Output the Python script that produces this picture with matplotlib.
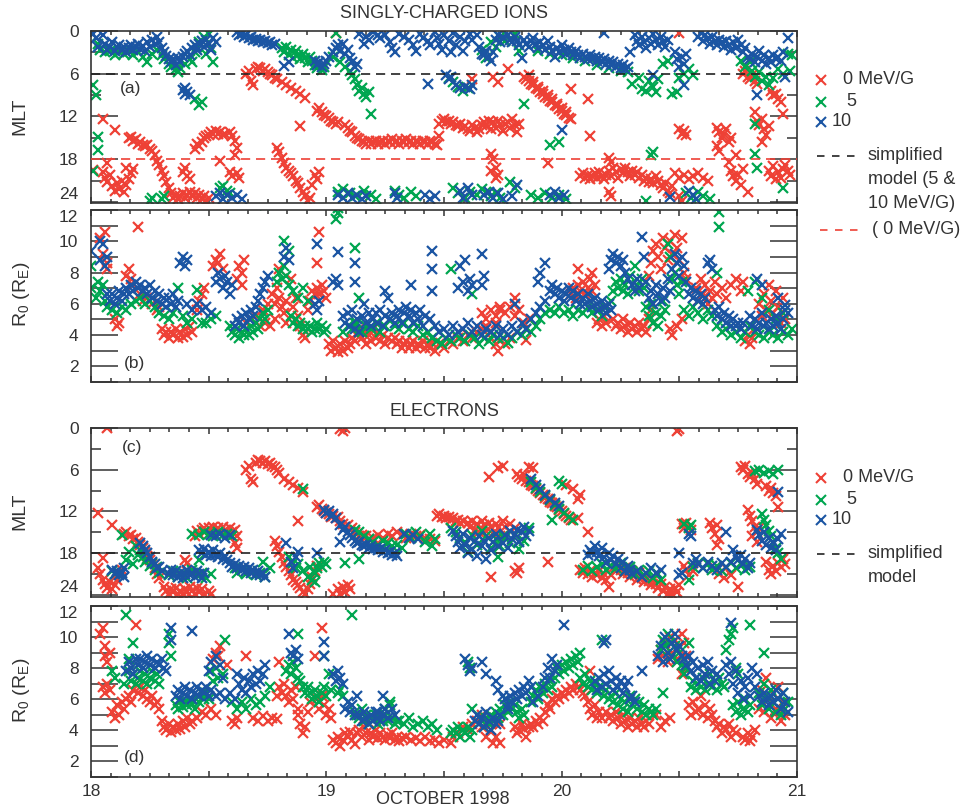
import matplotlib.pyplot as plt
from matplotlib.ticker import MultipleLocator, FuncFormatter

plt.rcParams['font.family'] = ['Liberation Sans', 'DejaVu Sans']
plt.rcParams['mathtext.fontset'] = 'custom'
plt.rcParams['mathtext.rm'] = 'Liberation Sans'
plt.rcParams['mathtext.it'] = 'Liberation Sans:italic'

RED, GREEN, BLUE = '#ee4136', '#00a650', '#1b55a3'
INK = '#333333'
W, H = 974, 810

# ---- singly-charged ions: MLT (day of October 1998, MLT hours) ----
ions_mlt_0 = [(18.01,19.5),(18.05,12.3),(18.10,13.9),(18.07,18.6),
    (18.05,19.8),(18.06,20.6),(18.07,21.2),(18.08,20.2),(18.09,21.8),(18.10,22.4),(18.11,21.4),(18.12,22.2),(18.13,21.0),(18.14,22.6),(18.15,21.6),(18.16,20.8),(18.17,20.0),(18.18,19.4),(18.15,19.2),
    (18.16,15.0),(18.17,14.9),(18.18,15.4),(18.19,15.2),(18.20,15.8),(18.21,15.6),(18.22,16.0),(18.23,16.2),(18.24,16.0),(18.25,16.6),(18.26,16.8),(18.27,17.4),(18.28,18.2),(18.29,18.8),(18.30,19.6),(18.31,20.4),(18.32,21.2),(18.33,22.0),(18.34,22.8),(18.35,23.4),(18.36,23.0),(18.37,23.6),(18.38,23.2),(18.39,22.8),(18.40,23.4),(18.41,23.0),(18.42,22.6),(18.43,23.2),(18.44,22.8),(18.45,23.4),(18.46,23.0),(18.47,23.6),(18.48,23.2),(18.49,23.8),(18.50,23.4),
    (18.39,19.8),(18.40,19.2),(18.41,20.4),(18.42,20.8),
    (18.44,16.6),(18.45,15.8),(18.46,16.2),(18.47,15.6),(18.48,15.0),(18.49,14.8),(18.50,14.6),(18.51,14.2),(18.52,14.4),(18.53,14.0),(18.54,14.4),(18.55,14.2),(18.56,14.6),(18.57,14.4),
    (18.55,18.2),(18.59,14.2),(18.60,14.8),(18.61,15.4),(18.62,16.4),(18.61,17.4),(18.59,19.8),(18.60,20.4),(18.62,20.0),(18.63,20.6),
    (18.66,6.0),(18.67,5.6),(18.68,7.0),(18.69,7.6),(18.70,5.4),(18.71,5.0),(18.72,5.2),(18.73,5.6),(18.74,5.4),(18.75,5.8),(18.76,6.0),(18.77,6.2),(18.78,6.6),(18.79,6.8),
    (18.81,7.2),(18.83,7.6),(18.85,8.0),(18.87,8.4),(18.89,8.8),(18.91,9.4),(18.89,13.4),
    (18.79,16.4),(18.80,17.0),(18.81,17.8),(18.82,18.6),(18.83,19.2),(18.84,19.6),(18.85,20.0),(18.86,20.4),(18.87,21.0),(18.88,21.4),(18.89,22.0),(18.90,22.6),(18.91,23.2),(18.92,23.8),(18.93,23.4),(18.94,21.6),(18.95,20.2),(18.96,20.8),(18.97,19.8),
    (18.96,11.2),(18.97,10.8),(18.98,11.4),(18.99,11.8),(19.00,12.0),(19.01,12.2),(19.02,12.6),(19.03,12.8),(19.04,13.0),(19.05,12.8),(19.04,0.3),
    (19.08,13.2),(19.09,13.6),(19.10,14.0),(19.11,14.2),(19.12,14.8),(19.13,15.0),(19.14,15.2),(19.15,15.4),(19.16,15.6),(19.17,15.8),(19.18,15.4),(19.19,15.8),(19.20,15.6),(19.21,15.4),(19.22,15.8),(19.23,15.6),(19.24,15.4),(19.25,15.8),(19.26,15.4),(19.27,15.6),(19.28,15.2),(19.29,15.6),(19.30,15.4),(19.31,15.8),(19.32,15.4),(19.33,15.6),(19.34,15.2),(19.35,15.6),(19.36,15.4),(19.37,15.8),(19.38,15.4),(19.39,15.6),(19.40,15.8),(19.41,15.4),(19.42,15.6),(19.43,15.8),(19.44,15.4),(19.45,15.6),(19.46,15.8),(19.47,16.0),(19.48,14.8),
    (19.48,13.0),(19.49,12.6),(19.50,12.4),(19.51,12.8),(19.52,12.6),(19.53,13.0),(19.54,12.8),(19.55,13.2),(19.56,13.4),(19.57,13.0),(19.58,13.6),(19.59,13.4),(19.60,13.8),(19.61,14.0),(19.62,13.2),(19.63,13.6),(19.64,14.2),(19.65,13.8),(19.66,13.2),(19.67,12.8),(19.68,13.4),(19.69,12.6),(19.70,13.8),(19.71,12.8),(19.72,13.6),(19.73,12.6),(19.74,13.2),(19.75,14.0),(19.76,13.0),(19.77,12.8),(19.78,13.6),(19.79,12.4),(19.80,13.2),(19.81,14.2),(19.82,13.0),
    (19.62,6.8),(19.70,17.2),(19.71,18.0),(19.72,19.2),(19.73,20.2),(19.70,19.6),(19.71,6.4),(19.73,7.2),(19.77,5.4),(19.72,20.6),
    (19.84,6.4),(19.85,6.8),(19.86,7.0),(19.87,7.4),(19.88,7.6),(19.89,8.0),(19.90,8.2),(19.91,8.6),(19.92,8.8),(19.93,9.2),(19.94,9.4),(19.95,9.8),(19.96,10.0),(19.97,10.4),(19.98,10.6),(19.99,11.0),(20.00,11.2),(20.01,11.6),(20.02,11.8),(20.03,12.2),(20.04,12.4),
    (19.86,6.2),(19.88,7.2),(19.90,7.8),(19.92,8.4),(19.94,9.0),(19.96,9.6),(19.98,10.2),(20.00,10.8),(20.02,11.4),
    (19.94,18.6),(20.04,8.2),(20.11,9.5),(20.12,14.8),
    (20.08,20.4),(20.09,20.0),(20.10,20.6),(20.11,20.2),(20.12,20.8),(20.13,20.4),(20.14,20.0),(20.15,20.6),(20.16,19.8),(20.17,20.4),(20.18,20.8),(20.19,20.2),(20.20,19.6),(20.21,20.4),(20.22,19.2),(20.23,19.8),(20.24,20.6),(20.25,19.4),(20.26,20.0),(20.27,19.2),(20.28,19.8),(20.29,20.4),(20.30,19.6),(20.31,20.2),(20.32,19.8),(20.33,20.6),(20.34,20.2),(20.35,21.0),(20.36,20.6),(20.37,21.2),(20.38,20.8),(20.39,21.4),(20.40,20.4),(20.41,21.0),(20.42,21.6),(20.43,22.0),(20.44,21.4),(20.45,22.4),(20.46,22.8),(20.47,21.8),
    (20.20,17.8),(20.21,18.4),(20.20,22.6),(20.21,23.2),
    (20.48,20.0),(20.50,20.6),(20.52,20.2),(20.54,20.8),(20.56,20.4),(20.58,20.0),(20.60,20.6),(20.62,21.0),(20.50,23.2),(20.51,23.8),
    (20.50,13.8),(20.51,14.4),(20.52,14.0),(20.53,14.6),
    (20.66,13.6),(20.67,14.2),(20.68,15.0),(20.69,14.4),(20.70,13.8),(20.71,15.6),(20.72,15.0),(20.66,16.2),(20.67,16.8),
    (20.71,18.4),(20.72,19.6),(20.73,20.4),(20.74,21.0),(20.75,20.2),(20.76,21.6),(20.77,19.4),(20.79,22.6),(20.74,17.4),
    (20.77,6.0),(20.78,5.6),(20.79,6.4),(20.80,6.8),(20.81,6.2),(20.82,7.0),(20.83,7.4),
    (20.82,11.4),(20.83,12.6),(20.84,13.2),(20.85,12.4),(20.86,13.8),(20.87,14.6),(20.88,13.4),(20.85,15.6),
    (20.89,8.4),(20.90,9.0),(20.91,8.8),(20.92,9.6),(20.93,10.0),(20.94,11.6),
    (20.88,19.6),(20.89,20.4),(20.90,19.0),(20.91,20.8),(20.92,19.8),(20.93,20.6),(20.94,19.4),(20.95,18.8),(20.96,19.6),(20.97,20.2),
    (20.50,0.3)]

ions_mlt_5 = [(18.01,7.6),(18.02,9.0),(18.03,14.9),(18.03,16.7),(18.01,19.6),(18.03,1.8),(18.04,2.6),(18.06,3.0),(18.08,2.8),(18.10,3.4),(18.12,2.9),(18.14,3.2),(18.16,2.8),(18.18,3.4),(18.20,3.0),(18.22,3.6),(18.24,4.3),(18.26,3.2),(18.28,2.6),(18.30,3.4),(18.31,4.0),(18.33,4.6),(18.34,5.0),(18.36,5.4),(18.37,5.7),(18.38,5.2),(18.40,4.6),(18.42,4.0),(18.43,4.3),(18.44,3.0),(18.45,2.2),(18.46,1.6),(18.48,0.8),(18.49,3.2),(18.50,0.4),(18.51,2.4),(18.52,4.3),(18.44,9.6),(18.46,10.4),(18.47,10.0),
    (18.81,2.4),(18.82,3.0),(18.83,2.2),(18.84,3.4),(18.85,2.6),(18.86,3.8),(18.87,2.8),(18.88,3.4),(18.89,4.0),(18.90,3.2),(18.91,3.8),(18.92,4.4),(18.93,3.6),(18.94,4.2),(18.95,4.8),(18.96,5.2),(18.98,5.5),(18.99,5.0),
    (19.04,0.3),(19.03,3.6),(19.06,4.4),(19.08,5.0),(19.10,5.6),(19.11,6.2),(19.12,6.8),(19.13,7.6),(19.14,8.4),(19.15,8.0),(19.16,8.8),(19.17,9.2),(19.18,8.6),(19.19,11.6),
    (19.52,6.6),(19.54,7.2),(19.56,7.8),(19.58,8.4),(19.60,8.0),
    (18.25,23.8),(18.26,23.4),(18.30,23.6),(18.31,23.2),(18.55,22.0),(18.56,21.8),(18.58,22.4),(18.59,22.8),(19.05,22.6),(19.07,22.2),(19.10,22.8),(19.12,23.2),(19.16,22.4),(19.19,23.0),(19.21,23.6),(19.29,22.4),(19.31,23.0),(19.33,23.4),(19.36,22.6),(19.38,23.2),(19.54,22.0),(19.56,22.8),(19.59,23.4),(19.61,22.6),(19.64,23.0),(19.66,22.2),(19.68,22.6),(19.70,23.2),(19.72,22.8),(19.74,23.4),(19.78,21.2),(19.80,22.0),(19.87,23.0),(19.90,23.4),(19.93,22.8),(19.96,23.4),(19.99,23.0),(20.02,23.6),(20.36,23.8),(20.53,22.8),(20.55,23.4),(20.58,22.6),(20.60,23.2),(20.63,23.6),
    (19.66,2.6),(19.68,3.8),(19.70,1.6),(19.72,2.2),(19.74,0.8),(19.76,1.4),(19.80,0.4),(19.84,10.2),(19.95,16.0),(19.99,15.6),(19.82,2.8),
    (19.90,2.8),(19.95,3.2),(20.00,3.4),(20.05,3.8),(20.10,4.2),(20.15,4.8),(20.20,5.2),(20.25,5.6),(20.28,5.8),(20.30,7.4),(20.33,6.6),(20.34,8.2),(20.36,8.4),(20.37,7.0),(20.39,7.8),(20.41,6.8),(20.40,8.6),(20.45,4.2),(20.47,8.8),(20.49,8.6),(20.50,6.6),(20.52,6.0),(20.54,5.4),(20.56,6.2),(20.43,4.6),
    (20.38,17.4),(20.39,17.0),
    (20.76,4.2),(20.78,5.0),(20.80,4.4),(20.81,5.6),(20.82,6.4),(20.84,5.8),(20.85,7.0),(20.87,6.4),(20.88,7.6),(20.90,6.6),(20.92,5.4),(20.94,6.0),(20.96,3.2),(20.97,5.6),
    (20.82,13.0),(20.82,17.2),(20.83,19.3),(20.94,22.1),(20.98,3.4)]

ions_mlt_10 = [(18.01,0.4),(18.02,1.0),(18.03,2.2),(18.05,0.5),(18.06,1.8),(18.07,2.6),(18.08,2.2),(18.09,1.6),(18.10,2.8),(18.11,2.3),(18.12,1.9),(18.13,2.6),(18.14,2.2),(18.15,2.9),(18.16,2.4),(18.17,2.0),(18.18,2.6),(18.19,2.2),(18.20,1.8),(18.21,2.5),(18.22,2.1),(18.23,2.8),(18.24,1.6),(18.25,2.3),(18.26,1.2),(18.27,1.8),(18.28,0.8),(18.29,1.6),(18.30,2.4),(18.31,3.0),(18.32,3.5),(18.33,3.9),(18.34,4.4),(18.35,4.0),(18.36,4.8),(18.37,3.8),(18.38,4.3),(18.39,3.6),(18.40,3.2),(18.41,2.8),(18.42,3.4),(18.43,2.4),(18.44,2.0),(18.45,2.6),(18.46,1.8),(18.47,1.4),(18.48,2.2),(18.49,1.2),(18.50,1.8),(18.51,2.6),(18.52,1.0),(18.53,1.6),
    (18.39,8.3),(18.40,8.8),(18.41,8.5),(18.42,9.0),(18.40,8.0),
    (18.62,0.2),(18.63,0.5),(18.64,0.4),(18.65,0.8),(18.66,0.6),(18.67,1.0),(18.68,0.9),(18.69,1.2),(18.70,1.1),(18.71,1.4),(18.72,1.2),(18.73,1.5),(18.74,1.4),(18.75,1.7),(18.76,1.6),(18.77,1.9),(18.78,1.8),
    (18.82,4.9),(18.84,4.4),
    (18.95,4.2),(18.96,4.8),(18.97,4.4),(18.98,5.0),(18.99,4.6),(19.00,4.2),(19.01,3.6),
    (19.03,3.0),(19.04,2.4),(19.05,2.0),(19.06,2.8),(19.07,1.8),(19.08,3.2),(19.09,2.6),(19.10,3.8),(19.11,4.4),(19.12,5.0),(19.13,4.6),
    (19.14,0.4),(19.16,1.8),(19.17,0.8),(19.18,1.2),(19.20,0.2),(19.22,0.5),(19.23,1.0),(19.25,0.6),(19.27,1.6),(19.28,2.4),(19.29,3.0),(19.31,0.4),(19.33,0.8),(19.35,1.2),(19.37,2.0),(19.38,2.8),(19.40,0.4),(19.41,1.0),(19.43,1.4),(19.44,2.0),
    (19.46,0.2),(19.47,1.0),(19.48,1.8),(19.49,2.6),(19.50,0.6),(19.52,1.4),(19.53,3.0),(19.54,0.3),(19.55,2.0),(19.57,0.8),(19.58,2.8),(19.59,1.4),(19.61,0.4),(19.62,1.2),(19.64,0.6),(19.65,2.2),(19.66,3.2),
    (19.43,7.4),(19.51,6.2),(19.52,6.8),(19.53,6.4),(19.55,7.6),(19.57,8.0),(19.59,7.8),(19.61,8.2),(19.62,7.6),
    (19.67,3.4),(19.68,2.8),(19.69,3.6),(19.70,4.2),(19.71,3.0),(19.72,1.2),(19.73,0.6),(19.74,1.6),(19.75,0.8),
    (19.77,0.6),(19.78,1.2),(19.79,1.6),(19.80,0.8),(19.81,1.4),(19.82,2.0),(19.83,3.8),(19.84,1.2),(19.85,1.8),(19.86,2.2),(19.87,1.4),(19.88,1.0),(19.89,1.8),(19.90,2.4),(19.91,1.6),(19.92,2.0),(19.93,2.6),(19.94,1.4),(19.95,2.2),(19.96,2.8),(19.97,3.6),(19.98,2.4),(19.99,3.0),(20.00,2.0),(20.01,2.6),(20.02,3.2),(20.03,2.4),(20.04,3.0),(20.05,3.4),(20.06,2.8),(20.07,3.4),(20.08,3.8),(20.09,3.2),(20.10,3.6),(20.11,4.0),(20.12,3.4),(20.13,4.0),(20.14,3.6),(20.15,4.2),(20.16,3.8),(20.17,4.4),(20.18,0.3),(20.18,4.0),(20.19,4.6),(20.20,4.2),(20.21,4.8),(20.22,4.4),(20.23,5.0),(20.24,4.6),(20.25,5.2),(20.26,4.8),(20.27,5.4),(20.28,5.0),(20.29,3.0),
    (20.31,0.6),(20.32,1.4),(20.33,2.0),(20.34,0.8),(20.35,1.6),(20.36,2.4),(20.37,1.0),(20.38,1.8),(20.39,0.4),(20.40,1.2),(20.41,2.0),(20.42,0.8),(20.43,1.6),(20.44,2.2),(20.45,1.2),
    (20.46,23.3),(20.48,3.0),(20.49,4.0),(20.50,5.0),(20.51,3.6),(20.52,4.6),(20.53,3.2),(20.52,7.6),(20.39,6.2),(20.00,13.9),
    (20.58,0.8),(20.59,0.3),(20.60,1.4),(20.61,0.6),(20.62,1.0),(20.63,1.8),(20.64,0.8),(20.65,1.4),(20.66,2.0),(20.67,1.2),(20.68,1.6),(20.69,2.2),(20.70,1.4),(20.71,2.0),(20.72,2.6),(20.73,1.6),(20.74,2.4),(20.75,1.2),(20.76,2.0),
    (20.77,3.0),(20.78,2.4),(20.79,3.6),(20.80,4.0),(20.81,3.2),(20.82,4.4),(20.83,3.6),(20.84,2.8),(20.85,4.2),(20.86,3.4),(20.87,4.6),(20.88,3.8),(20.89,4.4),(20.90,3.4),(20.91,4.0),(20.92,3.6),(20.93,4.2),(20.94,3.0),(20.95,6.4),(20.96,1.0),(20.83,9.0),
    (18.53,23.2),(18.55,22.8),(18.56,23.6),(18.58,23.0),(18.60,23.4),(18.62,23.0),(18.64,23.6),(19.05,23.0),(19.07,23.4),(19.09,22.8),(19.11,23.5),(19.13,23.0),(19.15,23.6),(19.17,23.2),(19.29,22.8),(19.30,23.4),(19.42,23.0),(19.44,23.6),(19.46,23.2),(19.57,22.4),(19.58,23.4),(19.60,22.0),(19.62,23.0),(19.67,23.0),(19.69,22.6),(19.71,23.4),(19.73,22.8),(19.75,23.6),(19.79,23.2),(19.81,21.6),(19.95,23.0),(19.97,22.6),(19.99,23.4),(20.01,23.0),(20.54,22.4),(20.56,23.0),(20.57,23.6)]

# ---- singly-charged ions: R0 (Earth radii) ----
ions_r0_0 = [(18.04,10.2),(18.06,10.6),(18.05,9.2),(18.07,8.6),(18.07,8.2),
    (18.10,5.0),(18.11,4.6),(18.12,4.8),
    (18.15,7.8),(18.16,8.2),(18.17,7.6),(18.18,7.2),(18.20,10.9),
    (18.21,6.6),(18.22,6.2),(18.24,6.4),(18.26,6.0),(18.28,5.6),(18.29,5.8),
    (18.30,4.4),(18.31,4.0),(18.32,4.2),(18.33,3.8),(18.34,4.2),(18.35,4.0),(18.36,4.4),(18.37,3.8),(18.38,4.2),(18.39,3.9),(18.40,4.4),(18.41,4.0),(18.42,4.6),(18.43,4.2),
    (18.45,5.6),(18.46,6.2),(18.47,6.6),(18.48,7.0),
    (18.52,8.4),(18.53,8.8),(18.54,8.6),(18.55,9.2),(18.56,8.2),
    (18.62,7.6),(18.63,8.4),(18.64,8.0),(18.65,8.8),(18.64,7.2),
    (18.66,4.8),(18.68,5.0),(18.70,5.2),(18.72,4.6),(18.74,4.8),(18.76,4.6),(18.78,5.0),(18.73,5.6),(18.75,6.0),
    (18.77,6.6),(18.78,6.0),(18.79,7.0),(18.80,6.4),(18.81,5.8),(18.82,5.4),(18.83,6.2),(18.80,8.2),(18.83,4.8),
    (18.85,7.6),(18.86,5.8),(18.87,6.4),(18.88,5.2),(18.89,4.6),(18.90,4.0),(18.91,3.8),(18.92,5.6),(18.93,6.2),(18.94,6.8),
    (18.96,8.6),(18.97,10.6),(18.95,6.6),(18.96,7.0),(18.97,6.6),(18.98,7.2),(18.99,6.8),(19.00,6.4),
    (19.01,3.4),(19.02,3.0),(19.03,3.6),(19.04,3.2),(19.05,2.9),(19.06,3.4),(19.07,3.0),(19.08,3.6),(19.09,3.2),(19.10,3.4),(19.11,3.8),(19.12,3.6),
    (19.13,4.0),(19.14,4.4),(19.15,3.8),(19.16,4.2),(19.17,3.4),(19.18,4.0),(19.19,3.6),(19.20,4.4),(19.21,3.8),(19.22,4.2),(19.23,3.6),(19.24,4.0),(19.25,3.4),(19.26,3.8),
    (19.28,3.6),(19.29,3.8),(19.30,3.4),(19.31,3.6),(19.32,3.2),(19.33,3.4),(19.34,3.6),(19.35,3.2),(19.36,3.4),(19.37,3.6),(19.38,3.2),(19.39,3.4),(19.40,3.3),(19.41,3.6),(19.42,3.2),(19.43,3.4),(19.44,3.2),(19.45,3.5),(19.46,3.0),(19.48,3.4),(19.50,3.2),(19.52,3.6),(19.54,3.4),(19.56,3.8),(19.58,3.6),(19.60,4.0),(19.62,3.8),(19.64,4.2),(19.66,4.4),(19.68,4.6),(19.70,4.2),(19.72,4.8),(19.73,3.0),(19.74,5.6),
    (19.66,5.4),(19.68,5.0),(19.70,5.6),(19.72,5.2),(19.74,5.8),(19.76,5.4),(19.78,5.8),(19.80,5.2),(19.82,5.6),(19.84,4.8),(19.86,5.0),
    (19.70,3.8),(19.72,3.4),(19.74,3.6),(19.76,3.4),(19.78,3.8),(19.80,6.4),(19.85,3.7),
    (20.04,6.6),(20.05,7.0),(20.06,6.4),(20.07,7.2),(20.08,6.8),(20.09,7.4),(20.10,6.6),(20.11,7.0),(20.12,7.6),(20.13,6.8),(20.14,7.2),(20.07,8.2),(20.13,8.0),
    (20.15,4.8),(20.16,5.0),(20.17,4.6),(20.18,5.2),(20.19,4.8),
    (20.22,5.0),(20.23,4.6),(20.24,4.8),(20.25,4.4),(20.26,5.0),(20.27,4.6),(20.28,4.2),(20.29,4.8),(20.30,4.4),(20.31,4.6),(20.32,4.2),(20.33,4.8),(20.34,4.4),(20.35,4.6),(20.36,4.2),(20.37,5.0),(20.38,5.6),(20.39,4.8),
    (20.37,7.8),(20.38,8.6),(20.39,9.4),(20.40,9.8),(20.41,9.0),(20.42,8.2),(20.43,10.2),(20.44,9.6),(20.45,8.8),(20.46,10.0),(20.47,9.2),(20.48,10.4),(20.49,9.6),(20.50,8.8),(20.51,10.2),(20.52,8.0),(20.53,7.6),
    (20.46,4.4),(20.47,4.0),(20.49,4.6),(20.51,5.0),
    (20.57,7.0),(20.58,6.2),(20.59,7.6),(20.60,6.6),(20.61,7.2),(20.62,6.0),(20.63,6.8),(20.64,6.4),(20.65,7.4),
    (20.66,6.6),(20.68,7.0),(20.70,6.4),(20.72,7.2),(20.74,7.6),(20.76,6.8),(20.77,7.4),
    (20.78,3.6),(20.79,4.0),(20.80,3.4),(20.81,3.8),(20.82,4.2),
    (20.84,6.0),(20.85,5.2),(20.86,6.6),(20.87,5.6),(20.88,7.2),(20.89,6.2),(20.90,5.4),(20.91,6.8),(20.92,5.8),(20.93,4.8),(20.94,6.4),(20.95,5.0)]

ions_r0_5 = [(18.00,8.4),(18.00,7.0),(18.02,6.4),(18.03,7.4),(18.04,6.8),(18.05,7.2),(18.06,6.2),
    (18.07,5.8),(18.09,5.6),(18.11,5.4),(18.13,5.8),(18.15,5.6),(18.17,6.0),(18.19,6.2),(18.21,6.4),(18.23,6.0),(18.25,6.2),(18.27,5.8),(18.29,5.4),(18.31,5.2),(18.33,5.0),(18.35,5.4),(18.37,7.0),(18.39,5.2),(18.41,4.8),(18.43,5.0),(18.45,6.9),(18.47,4.8),(18.49,4.8),(18.51,5.0),(18.53,5.2),
    (18.59,4.6),(18.60,4.2),(18.61,4.0),(18.62,4.4),(18.63,3.8),(18.64,4.2),(18.65,4.0),(18.66,4.4),(18.67,4.0),(18.68,4.6),(18.69,4.2),(18.70,4.8),(18.71,4.4),(18.72,5.0),(18.73,5.4),(18.74,5.0),(18.75,5.6),
    (18.79,7.4),(18.80,8.0),(18.81,7.6),(18.82,8.4),(18.83,7.8),(18.84,7.2),(18.82,10.0),(18.84,9.4),
    (18.85,5.2),(18.86,4.8),(18.87,5.0),(18.88,4.6),(18.89,4.8),(18.90,4.4),(18.91,4.6),(18.92,4.4),(18.93,4.6),(18.94,4.2),(18.95,4.4),(18.96,4.8),(18.97,4.4),(18.98,4.6),(18.99,4.2),(19.00,4.4),
    (18.86,6.8),(18.88,6.4),(18.90,7.0),(18.92,6.2),
    (19.04,11.4),(19.05,11.8),(19.05,12.1),(18.74,12.3),(19.12,9.6),(19.12,4.8),(19.14,6.4),
    (19.07,4.2),(19.09,4.6),(19.11,4.4),(19.13,4.8),(19.15,4.2),(19.17,4.6),(19.19,4.4),(19.21,4.8),(19.23,4.2),(19.25,4.6),(19.27,5.0),(19.29,4.6),(19.31,4.4),(19.33,4.8),(19.35,4.4),(19.37,4.2),(19.39,4.6),(19.41,4.0),(19.43,4.2),
    (19.45,3.8),(19.47,3.6),(19.49,3.4),(19.51,3.8),(19.53,3.6),(19.55,4.0),(19.57,3.8),(19.59,3.6),(19.61,4.0),(19.63,3.8),(19.65,3.4),(19.67,3.8),(19.69,3.6),(19.71,4.0),(19.73,3.8),
    (19.53,8.2),(19.62,6.6),
    (19.75,3.8),(19.77,3.5),(19.79,3.8),(19.81,4.2),(19.83,4.0),(19.85,4.4),(19.87,4.2),(19.89,4.6),(19.91,5.0),(19.93,5.4),
    (19.95,5.6),(19.97,5.4),(19.99,5.8),(20.01,5.4),(20.03,5.6),(20.05,5.2),(20.07,5.6),(20.09,5.4),(20.11,5.8),(20.13,5.4),(20.15,5.6),(20.17,5.2),(20.19,5.8),(20.21,6.2),
    (20.22,6.8),(20.23,7.4),(20.24,7.0),(20.25,7.6),(20.26,6.8),(20.27,7.2),(20.28,6.6),(20.29,7.8),(20.31,8.4),(20.32,7.2),(20.33,6.8),(20.34,7.6),(20.35,7.0),
    (20.36,5.8),(20.37,5.2),(20.38,6.0),(20.39,4.8),(20.40,5.4),(20.41,4.6),(20.42,5.2),(20.43,6.2),(20.44,5.6),
    (20.45,9.8),(20.46,9.0),(20.47,7.6),(20.48,8.0),(20.49,7.2),(20.50,6.6),(20.51,7.4),
    (20.52,5.6),(20.54,5.2),(20.56,5.8),(20.58,5.4),(20.60,5.0),(20.62,5.6),(20.64,5.2),
    (20.67,11.9),(20.67,10.9),(20.66,8.0),
    (20.66,4.6),(20.68,4.2),(20.70,4.4),(20.72,4.0),(20.74,4.2),(20.76,3.8),(20.78,4.2),(20.80,4.6),(20.82,4.2),(20.84,4.0),(20.86,3.8),(20.88,4.2),(20.90,4.0),(20.92,3.8),(20.94,4.2),(20.96,4.0),(20.98,4.4),
    (20.82,7.4),(20.79,6.8),(20.85,6.4),(20.88,5.6),(20.91,5.0),(20.94,5.4)]

ions_r0_10 = [(18.00,9.4),(18.04,8.8),(18.05,9.8),(18.06,8.4),(18.07,9.0),(18.04,10.0),
    (18.07,6.6),(18.08,6.2),(18.09,6.6),(18.10,6.0),(18.11,6.4),(18.12,6.8),(18.13,6.2),(18.14,6.6),(18.15,7.0),(18.16,6.6),(18.17,7.2),(18.18,6.8),(18.19,7.4),(18.20,7.0),(18.21,7.2),(18.22,6.8),(18.23,7.0),(18.24,6.6),(18.25,7.2),(18.26,6.4),(18.27,6.8),(18.28,6.2),(18.29,6.6),(18.30,6.0),(18.31,6.4),(18.32,5.8),
    (18.33,6.4),(18.34,6.0),(18.35,6.6),(18.36,5.8),(18.37,6.2),
    (18.38,8.6),(18.39,9.0),(18.40,8.4),(18.41,8.8),
    (18.41,6.0),(18.43,5.6),(18.45,6.0),(18.47,5.6),(18.49,5.8),(18.51,5.4),
    (18.53,7.4),(18.54,8.0),(18.55,7.6),(18.56,7.0),(18.57,7.8),(18.58,7.4),(18.59,6.6),(18.60,7.2),
    (18.61,4.6),(18.62,5.0),(18.63,4.8),(18.64,5.2),(18.65,4.6),(18.66,5.4),(18.67,5.0),(18.68,5.6),(18.69,5.2),(18.70,5.8),(18.71,6.2),(18.72,6.6),(18.73,7.0),(18.74,7.4),(18.75,7.8),
    (18.82,9.0),(18.83,9.6),(18.84,8.8),
    (18.95,6.0),(18.96,5.6),(18.97,6.2),(18.96,9.8),(19.05,9.3),
    (19.03,7.4),(19.04,7.6),(19.05,7.2),
    (19.07,5.2),(19.08,4.8),(19.09,5.4),(19.10,4.6),(19.11,5.6),(19.12,4.4),(19.13,5.0),(19.14,4.2),(19.15,5.2),(19.16,6.0),(19.17,4.8),(19.18,5.4),(19.19,4.6),(19.20,5.0),(19.21,5.4),(19.22,4.8),(19.23,5.6),(19.24,4.6),(19.25,5.2),(19.26,6.4),(19.27,5.0),(19.28,5.4),(19.29,4.8),(19.30,5.2),(19.31,5.6),(19.32,4.8),(19.33,5.4),(19.34,5.8),(19.35,5.2),(19.36,5.6),(19.37,4.8),(19.38,5.4),(19.39,5.0),(19.40,5.6),(19.41,4.6),(19.42,5.2),
    (19.12,7.4),(19.12,8.6),(19.25,6.8),(19.36,7.2),(19.45,9.4),(19.45,8.2),(19.45,6.8),
    (19.44,5.0),(19.46,4.6),(19.48,4.2),(19.50,4.4),(19.52,4.0),(19.54,4.6),(19.56,4.2),(19.58,4.4),(19.60,4.8),(19.62,4.2),(19.64,4.6),(19.66,4.0),(19.68,4.4),(19.70,4.2),(19.72,4.6),(19.74,4.0),
    (19.56,7.0),(19.57,8.4),(19.58,7.4),(19.59,8.8),(19.60,6.8),(19.61,7.6),(19.62,7.2),
    (19.66,9.2),(19.67,7.8),(19.66,7.2),
    (19.75,4.4),(19.77,4.0),(19.79,4.6),(19.81,4.2),(19.83,4.8),(19.85,4.4),(19.87,5.0),(19.89,5.4),(19.91,5.8),(19.93,6.2),(19.80,6.0),
    (19.90,7.4),(19.91,8.0),(19.93,8.6),
    (19.95,6.8),(19.96,7.2),(19.97,6.6),(19.98,7.0),(19.99,6.4),(20.00,6.8),(20.01,6.2),(20.02,6.6),(20.03,7.0),(20.04,6.4),(20.05,6.8),(20.06,6.2),(20.07,6.6),(20.08,6.0),(20.09,6.4),(20.10,6.0),(20.11,6.6),(20.12,6.2),(20.13,5.8),(20.14,6.4),(20.15,6.0),(20.16,5.6),(20.17,6.2),(20.18,5.8),(20.19,5.4),(20.20,6.0),(20.21,5.6),
    (20.20,8.2),(20.21,8.8),(20.22,9.2),(20.23,8.6),(20.24,9.0),(20.25,8.4),(20.26,8.8),(20.27,8.0),(20.28,7.6),
    (20.30,7.2),(20.31,6.8),(20.32,7.6),(20.33,7.0),(20.34,10.3),(20.35,9.0),(20.36,7.4),
    (20.37,6.4),(20.38,6.8),(20.39,6.0),(20.40,7.2),(20.41,6.6),(20.42,6.2),(20.43,7.0),(20.44,6.4),(20.45,7.6),(20.46,6.8),(20.47,8.2),(20.48,9.2),(20.49,8.6),(20.50,7.8),(20.51,9.0),(20.52,8.4),(20.53,7.4),(20.54,6.6),(20.55,7.0),(20.56,6.4),(20.57,6.8),(20.58,6.2),(20.59,6.6),(20.60,6.0),(20.61,6.4),(20.62,8.6),(20.63,8.8),(20.64,8.2),
    (20.65,5.6),(20.66,5.2),(20.67,5.8),(20.68,5.0),(20.69,5.4),(20.70,4.8),(20.71,5.2),(20.72,4.6),(20.73,5.0),(20.74,4.6),(20.75,4.8),(20.76,4.4),(20.77,4.8),
    (20.80,5.2),(20.81,4.6),(20.82,5.0),(20.83,4.4),(20.84,4.8),(20.85,5.4),(20.86,4.6),(20.87,4.8),(20.88,4.4),(20.89,5.0),(20.90,4.6),(20.91,5.2),(20.92,4.8),(20.93,4.4),(20.94,5.0),(20.95,5.6),
    (20.83,7.6),(20.85,7.2),(20.92,6.4),(20.95,5.9),(20.96,5.4)]

# ---- electrons: MLT ----
el_mlt_0 = [(18.07,0.0),(18.03,12.2),(18.09,13.9),(18.05,18.7),
    (18.03,20.2),(18.04,21.0),(18.05,21.8),(18.06,22.4),(18.07,23.0),(18.08,22.2),(18.09,23.2),(18.10,22.6),(18.11,21.8),(18.12,21.0),(18.13,20.4),
    (18.14,15.2),(18.15,14.9),(18.16,15.6),(18.17,15.4),(18.18,16.0),(18.19,15.8),(18.20,16.4),(18.21,16.8),(18.22,17.2),(18.23,17.8),(18.24,18.4),(18.25,19.0),(18.26,19.6),(18.27,20.2),(18.28,21.0),(18.29,21.6),
    (18.31,22.8),(18.32,23.4),(18.33,23.8),(18.34,23.2),(18.35,23.6),(18.36,23.0),(18.37,23.8),(18.38,23.4),(18.39,23.8),(18.40,23.2),(18.41,23.6),(18.42,22.8),(18.43,23.4),(18.44,23.8),(18.45,23.0),(18.46,23.6),(18.47,23.2),(18.48,23.9),(18.50,23.4),(18.51,23.8),
    (18.40,19.0),(18.41,19.4),
    (18.44,15.6),(18.45,14.8),(18.46,15.2),(18.47,14.6),(18.48,14.4),(18.49,14.8),(18.50,14.4),(18.51,14.6),(18.52,14.2),(18.53,14.6),(18.54,14.4),(18.55,14.8),(18.56,14.2),(18.57,14.6),(18.59,14.4),(18.60,15.0),(18.61,14.6),(18.62,15.6),(18.61,16.6),(18.62,17.2),
    (18.66,6.0),(18.67,5.4),(18.68,7.4),(18.69,7.8),(18.70,5.0),(18.71,4.6),(18.72,4.8),(18.73,5.0),(18.74,4.8),(18.75,5.2),(18.76,5.0),(18.77,5.4),(18.78,5.6),(18.79,6.0),(18.80,6.4),
    (18.82,7.4),(18.84,7.8),(18.86,8.2),(18.88,8.6),(18.90,9.2),(18.88,13.4),
    (18.78,16.2),(18.79,17.0),(18.80,17.8),(18.81,18.6),(18.82,19.4),(18.83,20.0),(18.84,20.6),(18.85,21.2),(18.86,21.8),(18.87,22.2),(18.88,22.6),(18.89,23.0),(18.90,23.6),(18.91,23.8),(18.92,23.2),(18.93,22.4),(18.94,21.4),(18.95,20.6),(18.96,19.8),
    (19.05,23.2),(19.06,23.8),(19.07,22.8),(19.08,23.6),(19.09,22.6),(19.10,23.2),(19.03,23.8),
    (19.06,0.2),(19.07,0.4),(19.08,0.0),
    (18.96,11.4),(18.97,11.0),(18.98,11.6),(18.99,12.0),(19.00,12.2),(19.01,12.4),(19.02,12.8),(19.03,12.6),(19.04,13.0),(19.05,12.8),
    (19.06,13.4),(19.07,13.8),(19.08,14.2),(19.09,14.0),(19.10,14.6),(19.11,14.4),(19.12,15.0),(19.13,15.2),(19.14,15.6),(19.15,15.4),(19.16,15.8),(19.17,15.6),(19.18,16.0),
    (19.20,15.8),(19.22,15.4),(19.24,15.8),(19.26,15.2),(19.28,15.6),(19.30,15.0),(19.32,15.4),(19.34,15.8),(19.36,15.2),(19.38,15.6),(19.40,15.4),(19.42,15.8),(19.44,16.0),(19.46,16.2),
    (19.47,12.6),(19.48,12.4),(19.49,12.8),(19.50,12.6),(19.51,13.0),(19.52,12.8),(19.53,13.2),(19.54,13.0),(19.55,13.4),(19.56,13.2),(19.57,13.6),(19.58,13.4),
    (19.60,13.6),(19.61,14.2),(19.62,13.4),(19.63,14.6),(19.64,13.8),(19.65,15.0),(19.66,13.4),(19.67,14.0),(19.68,14.8),(19.69,13.6),(19.70,14.2),(19.71,15.2),(19.72,13.8),(19.73,14.4),(19.74,15.6),(19.75,13.4),(19.76,14.2),(19.78,13.8),(19.80,14.4),
    (19.69,7.0),(19.70,21.4),(19.73,5.8),(19.75,5.4),
    (19.81,6.6),(19.82,7.0),(19.83,7.4),(19.84,6.8),(19.85,7.6),(19.86,7.8),(19.87,8.2),(19.88,8.4),(19.89,8.8),(19.90,9.0),(19.91,9.4),(19.92,9.6),(19.93,10.0),(19.94,10.2),(19.95,10.6),(19.96,10.8),(19.97,11.2),(19.98,11.4),(19.99,11.8),(20.00,12.0),(20.01,12.4),(20.02,12.6),(20.03,13.0),(20.04,13.2),(19.86,5.6),(19.88,5.8),
    (20.02,8.2),(20.05,8.8),(20.08,9.6),(20.07,10.2),(20.07,13.0),(20.11,14.9),
    (19.80,20.6),(19.81,20.8),(19.82,20.2),(19.94,19.2),
    (20.08,20.4),(20.09,20.8),(20.10,20.2),(20.11,21.0),(20.12,20.6),(20.13,21.4),(20.14,20.8),(20.15,21.2),(20.16,20.6),(20.17,21.6),(20.18,21.0),(20.19,21.8),(20.20,22.8),(20.21,21.2),
    (20.22,20.2),(20.23,20.6),(20.24,19.8),(20.25,20.4),(20.26,21.0),(20.27,20.2),(20.28,20.8),(20.29,21.4),(20.30,20.6),(20.31,21.2),(20.32,21.8),(20.33,20.8),(20.34,21.6),(20.35,22.2),(20.36,21.4),(20.37,22.0),(20.38,22.6),(20.39,21.8),(20.40,22.4),(20.41,23.0),(20.42,22.4),(20.43,23.4),(20.44,22.8),(20.45,23.8),(20.46,23.2),(20.47,23.8),(20.48,23.0),(20.49,23.6),(20.50,22.6),
    (20.49,0.5),(20.50,0.2),
    (20.51,13.8),(20.52,14.4),(20.53,13.6),(20.54,14.2),(20.55,14.6),
    (20.52,19.8),(20.53,20.4),(20.54,21.2),(20.56,20.6),(20.58,19.6),
    (20.63,13.6),(20.64,14.4),(20.65,15.2),(20.66,14.0),(20.67,16.0),(20.66,16.8),
    (20.65,20.2),(20.67,21.0),(20.68,20.6),(20.69,21.6),(20.70,20.2),(20.72,21.2),(20.75,22.8),
    (20.76,5.6),(20.77,6.0),(20.78,5.4),(20.79,6.6),(20.80,7.0),(20.81,6.4),(20.82,7.4),(20.83,8.0),
    (20.79,11.8),(20.80,12.6),(20.81,13.4),(20.82,14.2),(20.83,15.0),(20.84,14.4),(20.81,15.6),(20.83,16.4),
    (20.87,8.4),(20.88,9.0),(20.89,8.6),(20.90,9.4),(20.91,9.8),(20.92,11.4),
    (20.87,19.2),(20.88,20.4),(20.89,21.0),(20.90,19.8),(20.91,20.6),(20.92,19.4),(20.93,20.0),(20.94,18.8),(20.95,19.6)]

el_mlt_5 = [(18.10,21.0),(18.09,20.6),(18.13,15.4),(18.15,19.0),(18.16,17.8),(18.18,19.6),(18.19,17.0),(18.20,18.2),(18.21,17.6),(18.22,18.6),(18.23,19.2),(18.24,18.8),(18.25,19.8),(18.26,19.4),(18.27,20.4),(18.28,20.0),(18.29,20.8),
    (18.33,21.2),(18.35,20.6),(18.37,21.4),(18.39,20.8),(18.41,21.6),(18.43,20.4),(18.45,21.2),(18.47,20.8),(18.49,21.6),(18.51,21.0),(18.46,19.0),(18.43,15.2),
    (18.46,15.4),(18.48,15.0),(18.50,15.2),(18.52,15.6),(18.54,15.0),(18.56,15.4),(18.58,15.2),(18.60,15.6),
    (18.61,20.2),(18.62,20.8),(18.64,20.4),(18.66,21.0),(18.68,20.6),(18.70,21.2),(18.72,20.8),(18.74,21.4),(18.76,20.2),(18.73,19.2),
    (18.90,8.8),
    (18.84,18.6),(18.86,19.4),(18.87,20.2),(18.88,19.6),(18.90,20.6),(18.92,21.4),(18.93,20.0),(18.94,21.8),(18.95,20.8),(18.96,20.2),(18.97,19.4),(18.98,20.0),(18.99,19.2),(19.00,19.6),(18.95,22.2),
    (19.08,19.4),(19.14,18.8),
    (19.12,14.6),(19.14,15.0),(19.16,15.6),(19.18,16.0),(19.20,16.4),(19.22,16.8),(19.24,16.2),(19.26,16.6),(19.28,17.0),(19.30,16.8),(19.32,17.2),
    (19.34,15.2),(19.36,15.8),(19.38,15.0),(19.40,15.6),(19.42,16.4),(19.44,15.2),(19.46,16.0),(19.45,17.0),
    (19.53,14.4),(19.55,15.0),(19.57,15.8),(19.59,16.4),(19.60,17.8),(19.62,15.4),(19.64,16.8),(19.66,14.8),(19.68,15.6),(19.70,17.2),(19.72,16.0),(19.73,18.6),(19.75,15.6),
    (19.74,17.0),(19.76,15.8),(19.78,16.6),(19.80,15.4),(19.82,17.4),(19.84,16.2),(19.86,14.4),
    (19.87,7.8),(19.89,8.6),(19.91,9.2),(19.93,9.8),(19.95,10.4),(19.97,11.0),(19.99,11.6),(20.01,12.2),(20.03,12.8),(20.05,13.2),(19.96,13.2),(19.99,7.6),(20.00,8.0),
    (20.09,20.4),(20.11,19.8),(20.13,20.6),(20.15,20.0),(20.17,19.6),(20.19,20.4),(20.21,19.8),(20.23,20.2),(20.25,19.4),(20.27,20.6),(20.29,20.0),(20.31,21.0),(20.33,20.4),(20.35,21.2),(20.37,20.6),(20.39,21.6),(20.41,21.0),(20.42,21.8),
    (20.52,13.8),(20.54,14.4),(20.55,14.0),(20.54,21.8),
    (20.56,20.0),(20.58,19.4),(20.60,20.2),(20.62,19.6),(20.64,20.4),(20.66,19.8),(20.68,20.6),(20.70,20.0),(20.72,19.4),(20.74,20.2),(20.76,19.6),(20.78,20.4),(20.80,20.0),
    (20.82,6.2),(20.84,6.0),(20.86,6.4),(20.88,6.2),(20.90,6.6),(20.92,6.0),
    (20.85,12.4),(20.86,13.2),(20.87,14.0),(20.88,14.8),(20.89,15.6),(20.90,16.4),(20.91,17.2),(20.92,18.0),(20.93,18.8)]

el_mlt_10 = [(18.09,20.4),(18.10,21.0),(18.11,20.6),(18.12,21.2),(18.13,20.8),(18.14,21.4),(18.14,20.2),
    (18.21,16.6),(18.22,17.0),(18.23,17.6),(18.24,18.0),(18.25,18.6),(18.26,19.2),(18.27,19.6),(18.28,20.2),(18.29,20.0),(18.30,20.6),
    (18.33,21.0),(18.34,20.4),(18.35,21.2),(18.36,20.6),(18.37,21.4),(18.38,20.8),(18.39,21.6),(18.40,21.0),(18.41,20.4),(18.42,21.2),(18.43,20.8),(18.44,21.4),(18.45,20.6),(18.46,21.0),(18.47,21.6),(18.48,20.8),
    (18.46,17.6),(18.47,18.0),(18.48,17.4),(18.49,18.2),(18.50,17.8),(18.51,18.4),(18.52,17.6),(18.53,18.2),(18.54,18.6),(18.55,18.0),(18.56,18.8),(18.57,18.4),(18.58,19.0),
    (18.51,15.4),(18.53,15.6),(18.55,15.2),(18.57,15.8),(18.59,15.4),
    (18.59,19.4),(18.60,20.0),(18.61,19.6),(18.62,20.2),(18.63,19.8),(18.64,20.4),(18.65,20.0),(18.66,20.6),(18.67,20.2),(18.68,20.8),(18.69,20.4),(18.70,21.0),(18.71,20.6),(18.72,21.2),(18.73,20.8),(18.74,21.4),
    (18.83,16.6),(18.85,19.2),(18.86,20.2),(18.87,18.6),(18.88,17.8),(18.96,18.0),
    (18.99,11.8),(19.00,12.2),(19.01,12.0),(19.02,12.6),(19.03,12.4),(19.04,13.0),
    (19.06,14.0),(19.07,14.6),(19.08,14.2),(19.09,15.0),(19.10,15.4),(19.11,15.8),(19.06,16.4),
    (19.12,16.2),(19.13,16.6),(19.14,16.4),(19.15,16.8),(19.16,17.0),(19.17,16.8),(19.18,17.2),(19.19,17.0),(19.20,17.4),(19.21,17.2),(19.22,17.6),(19.23,17.4),(19.24,17.8),(19.25,17.6),(19.26,18.0),(19.27,17.8),(19.28,18.2),(19.29,18.0),(19.30,18.4),
    (19.33,15.2),(19.35,15.8),(19.37,15.4),(19.39,16.0),
    (19.54,14.8),(19.55,15.6),(19.56,16.4),(19.57,17.2),(19.58,15.2),(19.59,16.8),(19.60,18.0),(19.61,15.8),(19.62,17.4),(19.63,16.2),(19.64,18.4),(19.65,15.6),(19.66,17.0),(19.67,16.2),(19.68,18.8),(19.69,15.8),(19.70,17.6),(19.71,16.4),(19.72,15.2),(19.73,17.0),
    (19.75,16.6),(19.76,15.4),(19.77,17.2),(19.78,14.8),(19.79,16.0),(19.80,15.2),(19.81,14.6),(19.82,16.4),(19.83,15.0),(19.84,14.2),(19.85,15.6),(19.86,14.8),
    (19.87,7.4),(19.89,8.2),(19.91,8.8),(19.93,9.6),(19.95,10.2),(19.97,10.8),(19.99,11.2),
    (20.11,18.2),(20.12,17.6),(20.13,18.0),(20.14,17.0),(20.15,17.8),(20.16,18.4),(20.17,17.2),(20.18,18.6),(20.19,19.4),(20.20,18.0),(20.21,19.0),(20.22,18.4),(20.23,19.6),(20.24,18.8),(20.25,20.2),(20.26,19.2),(20.27,20.6),(20.28,19.8),(20.29,20.4),(20.30,21.0),(20.32,20.6),(20.34,21.4),(20.36,20.8),(20.38,20.2),(20.40,20.8),(20.42,20.4),
    (20.50,18.0),(20.54,15.2),(20.55,15.6),(20.50,21.2),(20.51,20.8),
    (20.56,19.4),(20.57,18.8),(20.58,19.6),(20.60,20.2),(20.62,19.2),(20.64,19.8),(20.66,20.4),(20.68,19.4),(20.70,20.0),(20.72,19.2),(20.70,15.0),
    (20.73,17.6),(20.74,18.4),(20.75,19.0),(20.76,18.2),(20.77,19.6),(20.78,18.8),(20.79,20.2),(20.80,19.4),
    (20.83,14.6),(20.84,15.4),(20.85,16.2),(20.86,15.0),(20.87,16.8),(20.88,15.8),(20.89,17.2),(20.90,16.4),(20.91,17.6),(20.92,16.0),(20.93,15.2),(20.92,9.2)]

# ---- electrons: R0 ----
el_r0_0 = [(18.04,10.2),(18.05,10.6),(18.06,9.4),(18.06,8.8),(18.07,8.4),(18.08,9.0),
    (18.05,6.8),(18.06,6.4),(18.07,7.0),(18.08,6.6),
    (18.09,5.2),(18.10,4.8),(18.11,5.6),(18.12,5.0),(18.13,5.8),(18.14,5.4),(18.15,6.0),(18.16,6.2),(18.17,5.8),(18.19,10.8),
    (18.18,6.6),(18.19,7.0),(18.20,6.4),(18.21,6.8),(18.22,6.2),(18.23,6.6),(18.24,6.0),(18.25,5.8),(18.26,6.2),(18.27,5.6),(18.28,5.8),(18.29,5.4),
    (18.30,4.6),(18.31,4.2),(18.32,4.0),(18.33,4.4),(18.34,3.9),(18.35,4.2),(18.36,4.0),(18.37,4.4),(18.38,4.1),(18.39,4.6),(18.40,4.2),(18.41,4.8),(18.42,4.4),(18.43,4.6),
    (18.45,4.8),(18.47,5.2),(18.49,5.0),(18.51,5.4),(18.53,5.0),
    (18.52,8.6),(18.53,9.0),(18.54,8.8),(18.55,9.4),
    (18.60,4.6),(18.61,4.4),(18.62,4.8),(18.58,8.2),(18.66,8.8),
    (18.69,4.8),(18.71,4.6),(18.73,4.9),(18.75,4.6),(18.77,4.8),(18.79,4.7),
    (18.79,6.2),(18.80,6.8),(18.81,6.4),(18.82,7.0),(18.83,6.2),(18.84,5.8),(18.85,6.6),(18.86,6.0),(18.87,6.8),(18.88,5.4),(18.80,8.4),
    (18.88,5.0),(18.89,4.4),(18.90,3.8),(18.91,4.2),(18.92,5.2),(18.93,5.8),
    (18.95,8.8),(18.98,10.6),
    (18.96,6.0),(18.97,5.4),(18.98,6.2),(18.99,5.6),(19.00,5.0),(19.01,5.4),(19.02,4.8),
    (19.03,3.4),(19.04,3.2),(19.05,3.6),(19.06,3.0),(19.07,3.4),(19.08,3.8),(19.09,3.6),(19.10,3.9),(19.11,3.4),(19.12,3.1),
    (19.13,3.8),(19.14,4.0),(19.15,3.6),(19.16,4.2),(19.17,3.8),(19.18,3.4),(19.19,3.8),(19.20,3.6),(19.21,4.0),(19.22,3.5),(19.23,3.8),(19.24,3.6),(19.25,3.4),(19.26,3.7),(19.27,3.5),(19.28,3.8),(19.29,3.4),(19.30,3.6),(19.31,3.3),
    (19.32,3.5),(19.34,3.6),(19.36,3.4),(19.38,3.5),(19.40,3.3),(19.42,3.6),(19.44,3.3),(19.46,3.4),(19.48,3.2),(19.50,3.4),
    (19.53,3.2),(19.54,3.6),(19.56,3.8),(19.58,4.2),(19.60,4.0),(19.62,4.4),(19.64,4.6),(19.66,4.2),(19.68,4.8),(19.70,4.4),(19.72,3.6),(19.74,3.2),
    (19.66,5.0),(19.68,3.6),(19.70,4.0),(19.71,3.2),(19.74,4.4),
    (19.80,4.2),(19.81,3.8),(19.82,4.0),(19.83,4.4),(19.84,4.1),(19.85,3.6),(19.86,4.2),(19.87,4.4),(19.88,4.2),(19.89,4.6),(19.90,4.4),(19.91,4.8),(19.92,4.6),
    (19.93,5.2),(19.94,5.6),(19.95,5.4),(19.96,6.0),(19.97,5.8),(19.98,6.2),(19.99,6.0),(20.00,6.4),(20.01,6.2),(20.02,6.6),(20.03,6.4),(20.04,6.8),(20.05,6.6),(20.06,7.0),(20.07,6.8),(20.08,6.6),
    (20.09,6.4),(20.10,6.2),(20.11,5.8),(20.12,5.4),(20.13,5.0),(20.14,5.6),(20.15,4.8),(20.16,5.2),(20.12,7.8),(20.17,4.8),
    (20.19,5.2),(20.20,4.8),(20.21,5.0),(20.22,4.6),(20.23,5.2),(20.24,4.8),(20.25,4.4),(20.26,5.0),(20.27,4.6),(20.28,4.2),(20.29,4.8),(20.30,4.4),(20.31,4.6),(20.32,4.2),(20.33,4.8),(20.34,4.4),(20.35,4.2),(20.36,4.6),(20.37,4.4),
    (20.40,5.0),(20.42,4.2),(20.44,4.6),(20.46,4.8),
    (20.41,8.6),(20.42,9.2),(20.43,8.8),(20.44,9.6),(20.45,8.4),(20.46,10.0),(20.47,9.0),(20.48,9.8),(20.49,8.6),(20.50,9.4),(20.51,10.2),(20.52,9.6),(20.53,8.8),(20.51,7.6),(20.52,8.0),
    (20.54,5.6),(20.55,5.0),(20.56,5.8),(20.57,5.2),(20.58,5.4),(20.59,6.2),(20.60,5.0),(20.61,5.6),(20.62,4.8),(20.63,5.4),(20.64,5.0),
    (20.65,4.6),(20.66,4.2),(20.67,4.4),(20.68,3.8),(20.69,4.2),(20.70,4.0),(20.71,4.4),(20.72,3.6),(20.73,4.0),(20.74,3.8),
    (20.77,3.6),(20.78,3.4),(20.79,3.8),(20.80,3.3),(20.81,3.6),(20.82,4.0),
    (20.84,5.4),(20.85,6.6),(20.86,5.2),(20.87,7.4),(20.88,6.0),(20.89,4.8),(20.90,6.4),(20.91,5.4),(20.92,6.8),(20.93,4.6),(20.94,5.8),(20.95,5.0)]

el_r0_5 = [(18.09,7.8),(18.10,7.4),(18.14,7.0),(18.15,11.4),(18.18,9.6),(18.16,8.6),(18.16,7.8),
    (18.17,7.2),(18.18,7.6),(18.19,7.0),(18.20,7.4),(18.21,7.8),(18.22,7.2),(18.23,7.6),(18.24,7.0),(18.25,7.4),(18.26,7.8),(18.27,7.2),(18.28,7.6),(18.29,7.0),
    (18.33,10.2),(18.33,9.6),(18.34,8.8),
    (18.36,5.6),(18.37,5.4),(18.38,5.8),(18.39,5.5),(18.40,5.9),(18.41,5.6),(18.42,6.0),(18.43,5.7),(18.44,5.4),(18.45,6.2),(18.46,5.8),(18.47,6.4),(18.48,6.0),(18.49,6.4),(18.50,6.0),
    (18.51,7.8),(18.52,7.2),(18.53,8.0),(18.54,7.4),(18.56,7.6),(18.57,9.8),
    (18.60,5.8),(18.62,5.4),(18.64,5.8),(18.66,5.4),(18.68,6.0),(18.70,5.6),(18.72,5.8),(18.74,6.2),(18.76,6.8),
    (18.83,7.8),(18.84,8.2),(18.85,7.6),(18.86,8.4),(18.87,8.0),(18.88,7.4),(18.88,10.2),
    (18.89,7.2),(18.90,6.8),(18.91,6.4),(18.92,6.8),(18.93,6.4),(18.94,6.0),(18.95,6.6),(18.96,6.2),(18.97,5.8),(18.98,6.4),(18.99,6.8),(19.00,6.2),
    (18.99,8.8),(19.01,7.6),(19.02,6.6),
    (19.05,6.4),(19.06,6.6),(19.07,6.2),(19.11,11.4),
    (19.12,5.2),(19.13,5.0),(19.14,4.8),(19.15,5.4),(19.16,4.6),(19.17,5.0),(19.18,4.4),(19.19,4.8),(19.20,4.6),(19.21,5.0),(19.22,4.4),(19.23,4.8),(19.24,4.6),(19.25,5.0),(19.26,4.6),(19.27,5.6),(19.28,4.8),(19.29,4.4),(19.30,4.6),(19.27,5.8),(19.25,5.4),
    (19.31,4.6),(19.33,4.4),(19.35,4.8),(19.37,4.2),(19.39,4.4),(19.41,4.6),(19.43,4.2),(19.45,4.4),(19.47,4.0),
    (19.53,3.8),(19.54,4.0),(19.55,3.8),(19.56,4.2),(19.57,3.6),(19.58,4.0),(19.59,3.8),(19.60,4.2),(19.61,3.6),(19.62,4.0),
    (19.60,8.4),(19.61,8.0),(19.62,5.4),
    (19.66,4.6),(19.67,4.2),(19.68,4.8),(19.69,4.4),(19.70,5.0),(19.71,4.6),(19.72,5.2),(19.73,4.8),(19.74,5.4),(19.75,5.0),(19.76,5.6),(19.77,5.2),(19.78,5.8),(19.79,5.4),(19.80,5.6),(19.81,5.2),(19.82,4.8),(19.83,5.4),(19.84,5.0),
    (19.87,5.8),(19.88,6.2),(19.89,6.6),(19.90,6.0),(19.91,6.8),(19.92,6.4),(19.93,7.0),(19.94,6.6),(19.95,7.2),(19.96,6.8),
    (19.97,7.4),(19.98,8.0),(19.99,7.6),(20.00,8.2),(20.01,7.8),(20.02,8.4),(20.03,8.0),(20.04,8.6),(20.05,8.2),(20.06,8.8),(20.07,8.4),(20.08,9.0),
    (20.08,7.4),(20.09,7.0),(20.10,7.6),(20.11,6.8),(20.12,7.2),(20.13,6.6),(20.14,7.0),(20.15,6.4),(20.16,6.8),(20.17,9.8),(20.18,6.2),(20.19,6.6),(20.20,6.0),
    (20.21,6.2),(20.22,5.8),(20.23,6.4),(20.24,5.6),(20.25,6.0),(20.26,5.4),(20.27,5.8),(20.28,5.2),(20.29,6.2),(20.30,5.6),(20.31,6.0),(20.32,5.4),(20.33,5.8),(20.34,5.2),(20.35,5.6),(20.36,5.0),(20.37,5.4),(20.38,5.2),(20.39,5.0),(20.40,5.4),(20.43,6.4),
    (20.42,9.2),(20.43,9.8),(20.44,9.4),(20.45,10.2),(20.46,9.6),(20.47,8.8),(20.48,9.4),(20.49,8.4),(20.50,9.0),(20.51,8.2),(20.52,7.6),(20.53,8.0),(20.54,9.6),
    (20.55,6.8),(20.56,7.2),(20.57,6.6),(20.58,7.0),(20.59,6.8),(20.60,7.4),(20.61,6.6),(20.62,7.0),(20.63,7.6),(20.64,6.8),(20.65,7.2),(20.66,6.6),(20.67,7.4),(20.68,7.0),(20.69,6.8),
    (20.70,9.2),(20.71,9.8),(20.72,10.2),(20.73,10.6),(20.80,10.8),(20.74,8.0),(20.75,7.6),
    (20.73,5.6),(20.74,5.2),(20.75,5.8),(20.76,5.0),(20.77,5.4),(20.78,6.0),(20.79,5.2),(20.80,5.6),(20.86,9.0),
    (20.84,6.4),(20.85,5.6),(20.86,7.0),(20.87,6.2),(20.88,5.4),(20.89,6.6),(20.90,5.8),(20.91,5.2),(20.92,6.0),(20.93,5.0),(20.94,6.4),(20.95,5.4),(20.96,5.8)]

el_r0_10 = [(18.15,7.8),(18.16,8.4),(18.17,8.0),(18.18,7.6),(18.19,8.6),
    (18.20,8.2),(18.21,8.6),(18.22,8.0),(18.23,8.4),(18.24,8.8),(18.25,8.2),(18.26,8.6),(18.27,8.0),(18.28,8.4),(18.29,8.2),(18.30,8.6),(18.31,8.0),(18.32,7.8),
    (18.34,10.6),(18.34,9.8),(18.43,10.4),
    (18.36,6.2),(18.37,6.6),(18.38,6.0),(18.39,6.4),(18.40,6.8),(18.41,6.2),(18.42,6.6),(18.43,6.0),(18.44,6.4),(18.45,6.8),(18.46,6.2),(18.47,6.6),(18.48,6.4),(18.49,6.8),(18.50,6.2),
    (18.50,7.8),(18.51,8.4),(18.53,8.8),(18.55,8.2),(18.56,7.4),
    (18.51,6.6),(18.53,6.2),(18.55,6.4),(18.57,6.0),(18.59,6.4),(18.61,6.0),
    (18.62,7.6),(18.63,7.0),(18.64,6.6),(18.65,7.4),(18.66,6.4),(18.67,7.2),(18.68,6.8),(18.69,7.6),(18.70,7.0),(18.71,7.8),(18.72,7.2),(18.73,7.6),(18.74,8.2),
    (18.84,10.2),(18.85,9.0),(18.86,8.8),(18.87,9.2),(18.88,8.6),
    (18.99,9.7),(18.99,8.8),
    (19.03,7.6),(19.04,7.2),(19.05,7.8),(19.06,7.4),(19.07,7.0),
    (19.08,5.4),(19.09,5.8),(19.10,5.2),(19.11,5.6),(19.12,5.0),(19.13,6.2),
    (19.14,5.0),(19.15,4.6),(19.16,5.2),(19.17,4.8),(19.18,4.4),(19.19,5.0),(19.20,4.6),(19.21,5.2),(19.22,4.8),(19.23,4.6),(19.24,5.0),(19.25,5.4),(19.26,4.8),
    (19.24,6.2),(19.22,5.2),(19.28,5.4),(19.29,5.0),
    (19.59,8.6),(19.60,8.2),(19.61,7.8),(19.62,8.0),
    (19.63,4.6),(19.64,5.0),(19.65,4.4),(19.66,4.8),(19.67,4.2),(19.68,5.2),(19.69,4.6),(19.70,4.0),(19.71,4.8),(19.72,4.4),(19.73,4.6),(19.74,5.0),
    (19.66,8.4),(19.68,7.6),(19.72,7.2),(19.73,6.6),(19.75,6.2),(19.77,5.4),
    (19.76,6.0),(19.77,5.6),(19.78,6.2),(19.79,5.8),(19.80,6.4),(19.81,6.0),(19.82,6.6),(19.83,6.2),(19.84,6.8),(19.85,6.4),(19.86,7.2),(19.87,6.8),
    (19.88,5.8),(19.90,6.2),(19.92,6.8),(19.93,7.4),(19.94,8.0),(19.95,7.4),(19.96,8.6),(19.97,7.8),(19.98,8.2),
    (20.01,10.8),
    (20.14,7.2),(20.15,6.6),(20.16,7.4),(20.17,6.8),(20.18,7.6),(20.19,7.0),(20.20,7.8),(20.21,7.2),(20.22,6.6),(20.23,7.4),(20.24,6.8),(20.25,7.2),(20.26,6.4),(20.27,6.8),(20.28,7.2),(20.29,6.0),
    (20.19,9.8),(20.18,9.6),(20.34,7.8),(20.30,6.2),(20.31,5.8),
    (20.41,8.8),(20.42,9.4),(20.43,8.4),(20.44,10.0),(20.45,9.0),(20.46,8.6),(20.47,9.6),(20.48,10.2),(20.49,9.2),(20.50,9.4),(20.51,8.8),
    (20.52,8.6),(20.53,8.2),(20.54,8.8),(20.55,7.8),(20.56,8.4),(20.57,7.4),(20.58,8.0),(20.59,7.2),(20.60,8.2),(20.61,7.6),(20.62,8.4),(20.63,7.0),(20.64,7.8),(20.65,7.2),(20.66,7.6),
    (20.72,10.9),
    (20.70,8.2),(20.71,7.6),(20.72,8.4),(20.73,7.0),(20.74,7.8),(20.75,6.4),(20.76,7.2),(20.77,6.0),(20.78,6.8),(20.79,7.4),(20.80,6.2),(20.81,8.0),(20.82,6.8),(20.83,7.6),
    (20.84,6.2),(20.85,5.8),(20.86,6.4),(20.87,6.0),(20.88,5.6),(20.89,6.2),(20.90,5.8),(20.91,6.6),(20.92,6.0),(20.93,5.4),(20.94,6.4),(20.95,5.8),(20.96,5.2)]

# simplified-model MLT lines
ions_model_mlt = 6       # 5 & 10 MeV/G
ions_model_mlt_0 = 18    # 0 MeV/G
el_model_mlt = 18


def box(x0, y0, x1, y1):
    return [x0 / W, 1 - y1 / H, (x1 - x0) / W, (y1 - y0) / H]


def draw(ax, pts, color):
    t, v = zip(*pts)
    ax.plot(t, v, ls='none', marker='x', color=color, ms=7.6, mew=1.6)


def style(ax, kind, bottom=False):
    ax.set_xlim(18, 21)
    ax.xaxis.set_major_locator(MultipleLocator(0.5))
    ax.xaxis.set_minor_locator(MultipleLocator(1 / 12))
    ax.xaxis.set_major_formatter(FuncFormatter(lambda v, p: '%d' % v if v == int(v) else ''))
    ax.tick_params(axis='x', which='major', direction='in', top=True, length=4.5, width=1.1,
                   color=INK, labelbottom=bottom, labelsize=12.5, labelcolor=INK, pad=5)
    ax.tick_params(axis='x', which='minor', direction='in', top=True, length=3, width=1.1, color=INK)
    if kind == 'mlt':
        ax.set_yticks([0, 6, 12, 18, 24])
        labs = ax.set_yticklabels(['0', '6', '12', '18', '24'])
        labs[-1].set_va('bottom')
        ax.yaxis.set_minor_locator(MultipleLocator(3))
        ax.tick_params(axis='y', which='minor', direction='in', right=True, length=7.5, width=1.1, color=INK)
    else:
        ax.set_yticks([2, 4, 6, 8, 10, 12])
        labs = ax.set_yticklabels(['2', '4', '6', '8', '10', '12'])
        labs[-1].set_va('top')
        ax.yaxis.set_minor_locator(MultipleLocator(1))
        ax.tick_params(axis='y', which='minor', direction='in', right=True, length=19.5, width=1.1, color=INK)
    ax.tick_params(axis='y', which='major', direction='in', right=True, length=19.5, width=1.1,
                   color=INK, labelsize=12.5, labelcolor=INK, pad=9)
    for s in ax.spines.values():
        s.set_color(INK)
        s.set_linewidth(1.2)


fig = plt.figure(figsize=(W / 100, H / 100), dpi=100)
ax_a = fig.add_axes(box(91, 31, 797, 203))
ax_b = fig.add_axes(box(91, 210, 797, 382))
ax_c = fig.add_axes(box(91, 428, 797, 597))
ax_d = fig.add_axes(box(91, 606, 797, 777))

dash = (0, (5.5, 3.5))
for ax, series in [(ax_a, (ions_mlt_0, ions_mlt_5, ions_mlt_10)),
                   (ax_b, (ions_r0_0, ions_r0_5, ions_r0_10)),
                   (ax_c, (el_mlt_0, el_mlt_5, el_mlt_10)),
                   (ax_d, (el_r0_0, el_r0_5, el_r0_10))]:
    for pts, c in zip(series, (RED, GREEN, BLUE)):
        draw(ax, pts, c)

ax_a.axhline(ions_model_mlt, color='#222222', ls=dash, lw=1.2, zorder=3)
ax_a.axhline(ions_model_mlt_0, color=RED, ls=dash, lw=1.2, zorder=3)
ax_c.axhline(el_model_mlt, color='#222222', ls=dash, lw=1.2, zorder=3)

style(ax_a, 'mlt')
ax_a.set_ylim(24.15, 0)
style(ax_b, 'r0')
ax_b.set_ylim(1, 12)
style(ax_c, 'mlt')
ax_c.set_ylim(24.3, 0)
style(ax_d, 'r0', bottom=True)
ax_d.set_ylim(1, 12)

for ax, lab, pos in [(ax_a, '(a)', (0.041, 0.665)), (ax_b, '(b)', (0.047, 0.11)),
                     (ax_c, '(c)', (0.044, 0.885)), (ax_d, '(d)', (0.047, 0.115))]:
    ax.text(pos[0], pos[1], lab, transform=ax.transAxes,
            fontsize=12.5, color=INK, va='center', zorder=5)

# titles and axis labels
tk = dict(color=INK, fontsize=13, ha='center', va='center')
fig.text(444 / W, 1 - 14 / H, 'SINGLY-CHARGED IONS', **tk)
fig.text(444 / W, 1 - 412 / H, 'ELECTRONS', **tk)
fig.text(443 / W, 1 - 800 / H, 'OCTOBER 1998', **tk)
yk = dict(color=INK, fontsize=14, ha='center', va='center', rotation=90)
fig.text(20 / W, 1 - 116 / H, 'MLT', **yk)
fig.text(20 / W, 1 - 511 / H, 'MLT', **yk)
fig.text(21 / W, 1 - 294 / H, r'R$_\mathrm{0}$ (R$_\mathrm{E}$)', **yk)
fig.text(21 / W, 1 - 690 / H, r'R$_\mathrm{0}$ (R$_\mathrm{E}$)', **yk)

# hand-drawn keys to the right of the panels
lax = fig.add_axes([0, 0, 1, 1])
lax.set_xlim(0, W)
lax.set_ylim(H, 0)
lax.axis('off')
lt = dict(color=INK, fontsize=13, va='center', ha='left')
for y0, model_lines in [(80, ['simplified', 'model (5 &', '10 MeV/G)']), (478, ['simplified', 'model'])]:
    for dy, c, txt, tx in [(0, RED, '0 MeV/G', 843), (22, GREEN, '5', 846), (42, BLUE, '10', 832)]:
        lax.plot([821], [y0 + dy], ls='none', marker='x', color=c, ms=6.5, mew=1.5)
        lax.text(tx, y0 + dy, txt, **lt)
    lax.plot([817, 858], [y0 + 76, y0 + 76], color='#222222', ls=(0, (4.5, 4.5)), lw=1.2)
    for i, s in enumerate(model_lines):
        lax.text(868, y0 + 76 + 24 * i, s, **lt)
lax.plot([820, 860], [230, 230], color=RED, ls=(0, (4.5, 4.5)), lw=1.2)
lax.text(872, 230, '( 0 MeV/G)', **lt)

fig.savefig('out.png', dpi=100)
